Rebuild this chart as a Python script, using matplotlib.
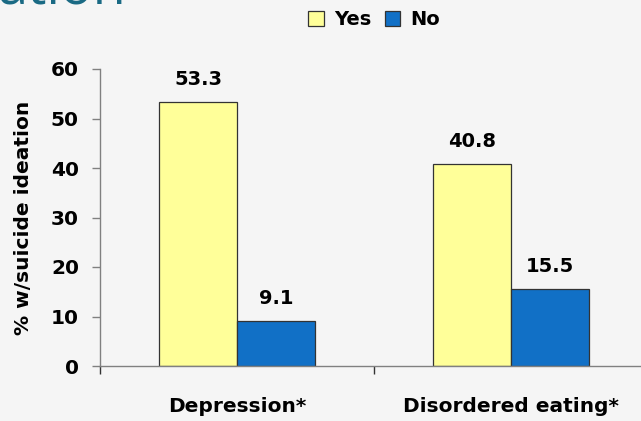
import matplotlib
matplotlib.use("Agg")
import matplotlib.pyplot as plt
import numpy as np
from matplotlib.patches import Patch

# Data
categories = ["Depression*", "Disordered eating*"]
series_names = ["Yes", "No"]
yes_values = [53.3, 40.8]
no_values = [9.1, 15.5]
y_ticks = [0, 10, 20, 30, 40, 50, 60]
y_label = "% w/suicide ideation"
heading_fragment = "ation"

yes_color = "#FFFF99"
no_color = "#1170C6"
bg = "#F5F5F5"
spine_gray = "#808080"

plt.rcParams["font.family"] = ["DejaVu Sans"]

fig = plt.figure(figsize=(6.41, 4.21), dpi=100, facecolor=bg)
W, H = 641, 421
ax = fig.add_axes([100 / W, (H - 366) / H, 548 / W, (366 - 69) / H])
ax.set_facecolor(bg)

x = np.arange(len(categories))
bw = 0.285
ax.bar(x - bw / 2, yes_values, bw, color=yes_color, edgecolor="#333333", linewidth=0.9, label=series_names[0], zorder=2)
ax.bar(x + bw / 2, no_values, bw, color=no_color, edgecolor="#333333", linewidth=0.9, label=series_names[1], zorder=2)

for xs, vals in ((x - bw / 2, yes_values), (x + bw / 2, no_values)):
    for xi, v in zip(xs, vals):
        ax.annotate(f"{v:.1f}", (xi, v), xytext=(0, 12.2), textcoords="offset points",
                    ha="center", va="baseline", fontsize=14, fontweight="bold", color="black")

ax.set_xlim(-0.5, 1.5)
ax.set_ylim(0, 60)
ax.set_yticks(y_ticks)
ax.set_yticklabels([str(t) for t in y_ticks], fontsize=14.5, fontweight="bold")
ax.tick_params(axis="y", length=5.8, width=1, color=spine_gray, pad=9.4)

ax.set_xticks(x)
ax.set_xticklabels(categories, fontsize=14.5, fontweight="bold")
ax.tick_params(axis="x", which="major", length=0, pad=22)
ax.set_xticks([-0.5, 0.5, 1.5], minor=True)
ax.tick_params(axis="x", which="minor", length=5.8, width=1, color="#333333")

for s in ("top", "right"):
    ax.spines[s].set_visible(False)
for s in ("left", "bottom"):
    ax.spines[s].set_color(spine_gray)
    ax.spines[s].set_linewidth(1)
    ax.spines[s].set_zorder(3)

ax.set_ylabel(y_label, fontsize=14.5, fontweight="bold")
ax.yaxis.set_label_coords(-67 / 548, 0.5)

handles = [Patch(facecolor=yes_color, edgecolor="#333333", linewidth=0.9),
           Patch(facecolor=no_color, edgecolor="#333333", linewidth=0.9)]
leg = fig.legend(handles, series_names, loc="center", bbox_to_anchor=(374 / W, 1 - 19.5 / H),
                 ncol=2, frameon=False, prop={"size": 14, "weight": "bold"},
                 handlelength=0.8, handleheight=0.8, handletextpad=0.5, columnspacing=0.7,
                 borderpad=0, borderaxespad=0)

fig.text(-2 / W, 1 - 4 / H, heading_fragment, ha="left", va="baseline", fontsize=39,
         family="Open Sans", color="#1A6A84")

fig.savefig("out.png", dpi=100, facecolor=bg)
